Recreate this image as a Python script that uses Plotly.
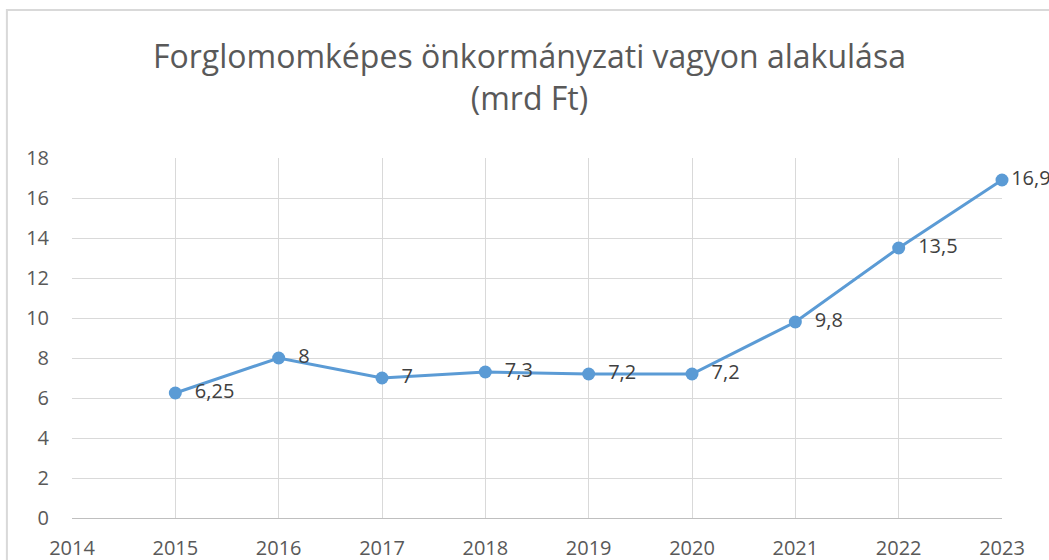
import plotly.graph_objects as go

years = [2015, 2016, 2017, 2018, 2019, 2020, 2021, 2022, 2023]
values = [6.25, 8, 7, 7.3, 7.2, 7.2, 9.8, 13.5, 16.9]
labels = ["6,25", "8", "7", "7,3", "7,2", "7,2", "9,8", "13,5", "16,9"]
x_ticks = list(range(2014, 2024))
y_ticks = list(range(0, 19, 2))

pads = ["  "] * (len(labels) - 1) + [""]
font_family = "Open Sans, Liberation Sans, sans-serif"

fig = go.Figure()
fig.add_trace(go.Scatter(
    x=years, y=values, mode="lines+markers+text",
    text=[p + t for p, t in zip(pads, labels)], textposition="middle right",
    textfont=dict(family=font_family, size=20, color="#404040"),
    line=dict(color="#5B9BD5", width=3),
    marker=dict(color="#5B9BD5", size=13),
    cliponaxis=False, showlegend=False,
))

fig.update_layout(
    width=1049, height=560,
    margin=dict(l=72, r=47, t=158, b=42, autoexpand=False),
    paper_bgcolor="white", plot_bgcolor="white",
    font=dict(family=font_family, color="#595959", size=20),
    xaxis=dict(range=[2014, 2023], tickvals=x_ticks, ticktext=[str(v) for v in x_ticks],
               showgrid=True, gridcolor="#d9d9d9", gridwidth=1, zeroline=False,
               showline=True, linecolor="#bfbfbf", linewidth=1, ticks="",
               tickfont=dict(size=20, color="#595959"), ticklabelstandoff=12),
    yaxis=dict(range=[0, 18], tickvals=y_ticks, showgrid=True, gridcolor="#d9d9d9",
               gridwidth=1, zeroline=False, showline=False, ticks="",
               tickfont=dict(size=20, color="#595959"), ticklabelstandoff=22),
    annotations=[dict(text="Forglomomképes önkormányzati vagyon alakulása<br>(mrd Ft)",
                      xref="paper", yref="paper", x=0.492, y=1.225, xanchor="center",
                      yanchor="middle", showarrow=False,
                      font=dict(size=32, color="#595959", family=font_family))],
    shapes=[dict(type="rect", xref="paper", yref="paper", x0=-0.07, x1=1.2,
                 y0=-0.3, y1=1.411, line=dict(color="#d9d9d9", width=2), layer="below")],
)

fig.write_html("out.html", config={"displayModeBar": False},
               post_script="document.body.style.margin='0';document.body.style.overflow='hidden';")
